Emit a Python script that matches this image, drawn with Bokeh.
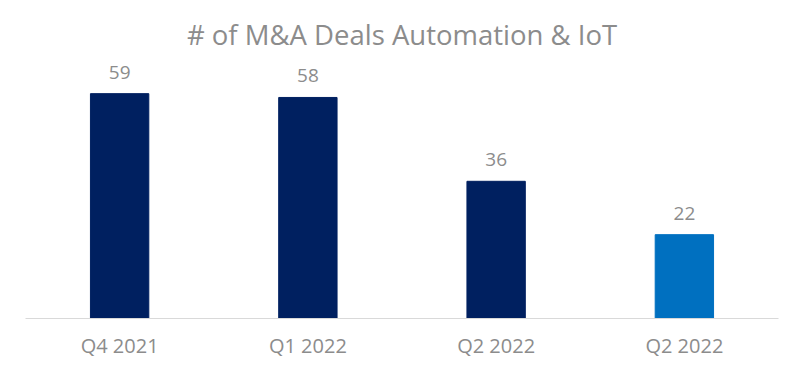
from bokeh.plotting import figure
from bokeh.models import FixedTicker, Range1d, ColumnDataSource
from bokeh.core.properties import value
from bokeh.embed import file_html
from bokeh.resources import INLINE

categories = ["Q4 2021", "Q1 2022", "Q2 2022", "Q2 2022"]
deals = [59, 58, 36, 22]
colors = ["#002060", "#002060", "#002060", "#0070C0"]

FONT = "Open Sans"
GRAY = "#8c8c8c"

xs = list(range(len(categories)))
src = ColumnDataSource(dict(x=xs, top=deals, color=colors, label=[str(d) for d in deals]))

p = figure(width=800, height=371, output_backend="svg", toolbar_location=None,
           x_range=Range1d(-0.5, len(categories) - 0.5), y_range=Range1d(0, 67.7),
           min_border_left=25, min_border_right=22, min_border_bottom=53, min_border_top=60,
           title="# of M&A Deals Automation & IoT")

p.vbar(x="x", top="top", width=0.31, color="color", source=src)
p.text(x="x", y="top", text="label", source=src, text_align="center", text_baseline="bottom",
       y_offset=-15, text_font=value(FONT), text_font_size="19px", text_color=GRAY)

p.title.align = "center"
p.title.text_font = FONT
p.title.text_font_size = "27.5px"
p.title.text_font_style = "normal"
p.title.text_color = GRAY
p.title.standoff = 15

p.yaxis.visible = False
p.xgrid.visible = False
p.ygrid.visible = False
p.outline_line_color = None

ax = p.xaxis[0]
ax.ticker = FixedTicker(ticks=xs)
ax.major_label_overrides = {i: c for i, c in enumerate(categories)}
ax.major_tick_line_color = None
ax.minor_tick_line_color = None
ax.axis_line_color = "#d9d9d9"
ax.major_label_text_font = FONT
ax.major_label_text_font_size = "20px"
ax.major_label_text_color = GRAY
ax.major_label_standoff = 7

open("out.html", "w").write(file_html(p, INLINE))
